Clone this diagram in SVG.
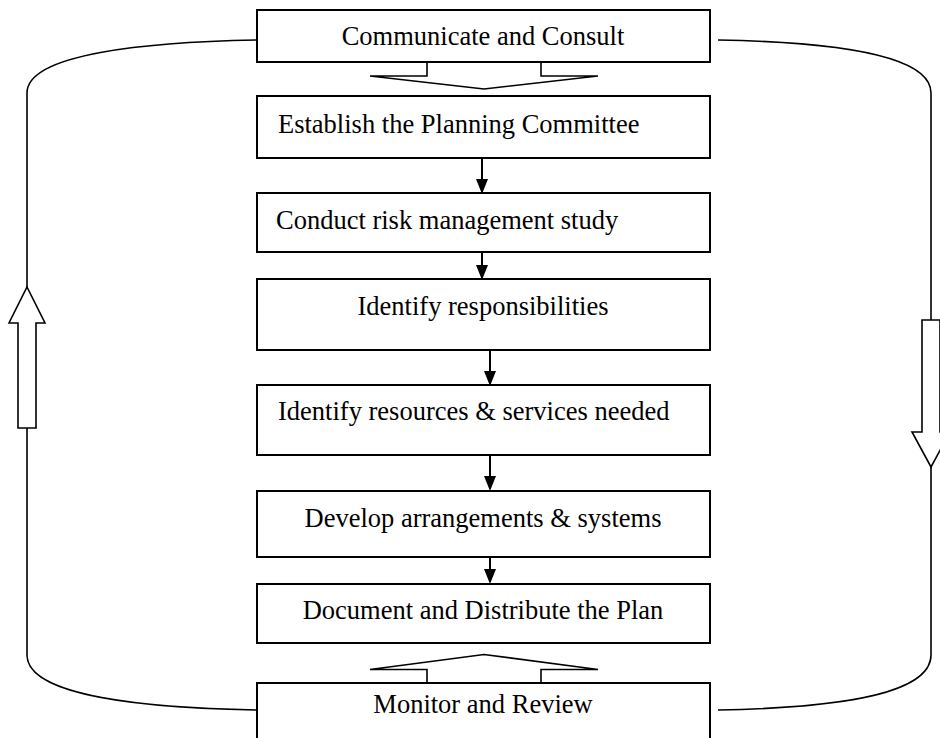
<svg xmlns="http://www.w3.org/2000/svg" width="940" height="738" viewBox="0 0 940 738">
  <style>
    .box { fill: #ffffff; stroke: #000000; stroke-width: 2; }
    .label { font-family: "Liberation Serif", "Times New Roman", serif; font-size: 26.5px; fill: #000000; }
    .mid { text-anchor: middle; }
    .loop { fill: none; stroke: #000000; stroke-width: 1.6; }
    .block { fill: #ffffff; stroke: #000000; stroke-width: 1.6; stroke-linejoin: miter; }
    .flow { stroke: #000000; stroke-width: 2; }
    .tip { fill: #000000; }
  </style>
  <rect width="940" height="738" fill="#ffffff"/>

  <!-- outer feedback loop -->
  <g id="connectors">
    <path class="loop" d="M257,40 C150,42 27,53 27,93 V287"/>
    <path class="loop" d="M27,428 V655 C27,697 150,708 257,710"/>
    <path class="loop" d="M718,40 C825,42 931,53 931,93 V320"/>
    <path class="loop" d="M931,467 V655 C931,697 825,708 718,710"/>
    <!-- block arrows on the loop sides -->
    <polygon class="block" points="27,287 45,323 36,323 36,428 18,428 18,323 9,323"/>
    <polygon class="block" points="922,320 940,320 940,432 950,432 931,467 912,432 922,432"/>
    <!-- block arrows out of / into the end boxes -->
    <path class="block" d="M427,62 V76 H370 L484,89 L598,76 H541 V62"/>
    <path class="block" d="M427,683 V669.5 H370 L484,654.5 L598,669.5 H541 V683"/>
    <!-- step arrows -->
    <line class="flow" x1="482" y1="158" x2="482" y2="180"/>
    <polygon class="tip" points="476,179 488,179 482,194"/>
    <line class="flow" x1="482" y1="243" x2="482" y2="266"/>
    <polygon class="tip" points="476,265 488,265 482,280"/>
    <line class="flow" x1="490" y1="350" x2="490" y2="372"/>
    <polygon class="tip" points="484,371 496,371 490,386"/>
    <line class="flow" x1="490" y1="455" x2="490" y2="477"/>
    <polygon class="tip" points="484,476 496,476 490,491"/>
    <line class="flow" x1="490" y1="548" x2="490" y2="570"/>
    <polygon class="tip" points="484,569 496,569 490,584"/>
  </g>

  <g id="communicate">
    <rect class="box" x="257" y="10" width="453" height="52"/>
    <text class="label mid" x="483" y="45">Communicate and Consult</text>
  </g>
  <g id="establish">
    <rect class="box" x="257" y="96" width="453" height="62"/>
    <text class="label" x="278" y="133">Establish the Planning Committee</text>
  </g>
  <g id="study">
    <rect class="box" x="257" y="193" width="453" height="59"/>
    <text class="label" x="276" y="229">Conduct risk management study</text>
  </g>
  <g id="responsibilities">
    <rect class="box" x="257" y="279" width="453" height="71"/>
    <text class="label mid" x="483" y="315">Identify responsibilities</text>
  </g>
  <g id="resources">
    <rect class="box" x="257" y="385" width="453" height="70"/>
    <text class="label" x="278" y="420">Identify resources &amp; services needed</text>
  </g>
  <g id="arrangements">
    <rect class="box" x="257" y="491" width="453" height="66"/>
    <text class="label mid" x="483" y="527">Develop arrangements &amp; systems</text>
  </g>
  <g id="document">
    <rect class="box" x="257" y="584" width="453" height="59"/>
    <text class="label mid" x="483" y="619">Document and Distribute the Plan</text>
  </g>
  <g id="monitor">
    <rect class="box" x="257" y="683" width="453" height="70"/>
    <text class="label mid" x="483" y="713">Monitor and Review</text>
  </g>
</svg>
